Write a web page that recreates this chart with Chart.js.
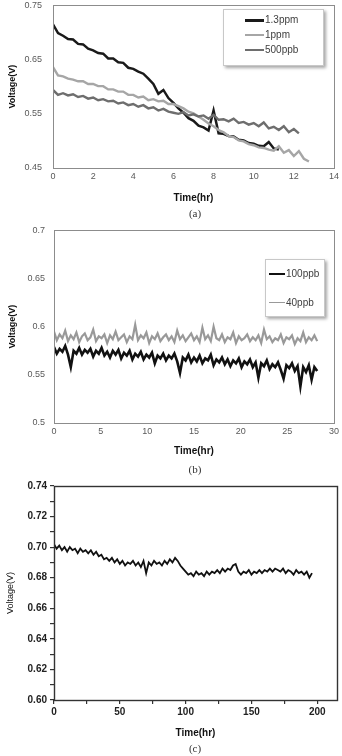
<!DOCTYPE html>
<html>
<head>
<meta charset="utf-8">
<script src="https://cdn.jsdelivr.net/npm/chart.js@4.4.1/dist/chart.umd.min.js"></script>
<style>
  body { margin: 0; width: 342px; height: 756px; background: #fff; position: relative; overflow: hidden; font-family: "Liberation Sans", Arial, sans-serif; }
  canvas { position: absolute; left: 0; }
  .cap { position: absolute; left: 145px; width: 100px; text-align: center; font: 11px/12px "Liberation Serif", serif; color: #333; }
  .legend { position: absolute; background: #fff; border: 1px solid #c8c8c8; box-shadow: 2px 2px 3px rgba(0,0,0,0.35); }
  .legend .ln { position: absolute; height: 2px; }
  .legend .tx { position: absolute; font-size: 10px; line-height: 12px; color: #404040; }
</style>
</head>
<body>
<canvas id="chartA" width="342" height="219" style="top:-11px"></canvas>
<canvas id="chartB" width="342" height="245" style="top:216px"></canvas>
<canvas id="chartC" width="342" height="269" style="top:474px"></canvas>

<div class="cap" style="top:207px">(a)</div>
<div class="cap" style="top:463px">(b)</div>
<div class="cap" style="top:742px">(c)</div>

<div class="legend" style="left:223px;top:9px;width:99px;height:55px">
  <div class="ln" style="left:21px;top:9px;width:19px;height:3px;background:#1a1a1a"></div><div class="tx" style="left:41px;top:4px">1.3ppm</div>
  <div class="ln" style="left:21px;top:24px;width:19px;background:#a6a6a6"></div><div class="tx" style="left:41px;top:19px">1ppm</div>
  <div class="ln" style="left:21px;top:39px;width:19px;background:#6e6e6e"></div><div class="tx" style="left:41px;top:34px">500ppb</div>
</div>
<div class="legend" style="left:265px;top:259px;width:58px;height:56px">
  <div class="ln" style="left:3px;top:13px;width:16px;background:#111"></div><div class="tx" style="left:20px;top:8px">100ppb</div>
  <div class="ln" style="left:3px;top:42px;width:16px;height:1px;background:#999"></div><div class="tx" style="left:20px;top:37px">40ppb</div>
</div>

<script>
// (a) time in hours, sampled every 15 min
const timeA = [0,0.25,0.5,0.75,1,1.25,1.5,1.75,2,2.25,2.5,2.75,3,3.25,3.5,3.75,4,4.25,4.5,4.75,5,5.25,5.5,5.75,6,6.25,6.5,6.75,7,7.25,7.5,7.75,8,8.25,8.5,8.75,9,9.25,9.5,9.75,10,10.25,10.5,10.75,11,11.25,11.5,11.75,12,12.25,12.5,12.75];
const ppm13 = [0.715,0.699,0.694,0.688,0.687,0.679,0.678,0.670,0.667,0.662,0.661,0.652,0.652,0.645,0.644,0.635,0.633,0.628,0.624,0.615,0.605,0.587,0.594,0.579,0.570,0.560,0.552,0.542,0.537,0.528,0.525,0.519,0.556,0.514,0.513,0.509,0.508,0.502,0.501,0.496,0.495,0.491,0.490,0.498,0.486,0.484];
const ppm1 = [0.636,0.621,0.619,0.615,0.613,0.610,0.610,0.605,0.605,0.601,0.601,0.595,0.595,0.591,0.591,0.585,0.585,0.580,0.582,0.575,0.577,0.573,0.574,0.568,0.568,0.564,0.560,0.554,0.551,0.545,0.539,0.532,0.527,0.520,0.516,0.509,0.507,0.501,0.499,0.494,0.492,0.488,0.487,0.484,0.482,0.490,0.478,0.483,0.472,0.481,0.467,0.462];
const ppb500 = [0.594,0.585,0.588,0.584,0.586,0.581,0.583,0.578,0.580,0.575,0.577,0.573,0.574,0.569,0.571,0.566,0.568,0.563,0.566,0.560,0.562,0.556,0.559,0.554,0.552,0.550,0.553,0.547,0.549,0.545,0.547,0.541,0.548,0.539,0.540,0.536,0.541,0.533,0.535,0.530,0.533,0.527,0.534,0.523,0.526,0.520,0.527,0.516,0.522,0.514];

// (b)
const timeB = [0,0.3,0.6,0.9,1.2,1.5,1.8,2.1,2.4,2.7,3,3.3,3.6,3.9,4.2,4.5,4.8,5.1,5.4,5.7,6,6.3,6.6,6.9,7.2,7.5,7.8,8.1,8.4,8.7,9,9.3,9.6,9.9,10.2,10.5,10.8,11.1,11.4,11.7,12,12.3,12.6,12.9,13.2,13.5,13.8,14.1,14.4,14.7,15,15.3,15.6,15.9,16.2,16.5,16.8,17.1,17.4,17.7,18,18.3,18.6,18.9,19.2,19.5,19.8,20.1,20.4,20.7,21,21.3,21.6,21.9,22.2,22.5,22.8,23.1,23.4,23.7,24,24.3,24.6,24.9,25.2,25.5,25.8,26.1,26.4,26.7,27,27.3,27.6,27.9,28.2];
const ppb100 = [0.579,0.572,0.577,0.574,0.580,0.571,0.558,0.575,0.572,0.578,
  0.571,0.576,0.573,0.577,0.569,0.575,0.572,0.578,0.570,0.574,
  0.568,0.575,0.571,0.576,0.567,0.573,0.570,0.575,0.566,0.572,
  0.569,0.574,0.566,0.571,0.568,0.573,0.562,0.570,0.567,0.572,
  0.565,0.570,0.567,0.572,0.564,0.552,0.568,0.565,0.571,0.563,
  0.568,0.564,0.570,0.562,0.567,0.565,0.571,0.560,0.566,0.563,
  0.568,0.561,0.566,0.559,0.565,0.562,0.567,0.558,0.564,0.561,
  0.566,0.558,0.563,0.547,0.562,0.559,0.565,0.556,0.561,0.558,
  0.563,0.555,0.546,0.560,0.557,0.562,0.554,0.559,0.538,0.558,
  0.553,0.560,0.545,0.558,0.554];
const ppb40 = [0.595,0.586,0.592,0.588,0.596,0.585,0.591,0.587,0.594,0.584,
  0.590,0.593,0.586,0.589,0.597,0.585,0.590,0.588,0.592,0.583,
  0.591,0.587,0.595,0.586,0.589,0.592,0.584,0.590,0.587,0.602,
  0.586,0.591,0.588,0.594,0.583,0.590,0.587,0.593,0.585,0.589,
  0.592,0.586,0.590,0.584,0.596,0.587,0.591,0.585,0.589,0.593,
  0.586,0.590,0.584,0.599,0.587,0.591,0.585,0.600,0.588,0.586,
  0.592,0.584,0.589,0.587,0.594,0.583,0.590,0.586,0.588,0.592,
  0.585,0.589,0.586,0.591,0.583,0.597,0.587,0.590,0.584,0.588,
  0.586,0.592,0.583,0.589,0.587,0.591,0.582,0.588,0.585,0.594,
  0.584,0.589,0.586,0.591,0.585];

// (c)
const timeC = [0,2,4,6,8,10,12,14,16,18,20,22,24,26,28,30,32,34,36,38,40,42,44,46,48,50,52,54,56,58,60,62,64,66,68,70,72,74,76,78,80,82,84,86,88,90,92,94,96,98,100,102,104,106,108,110,112,114,116,118,120,122,124,126,128,130,132,134,136,138,140,142,144,146,148,150,152,154,156,158,160,162,164,166,168,170,172,174,176,178,180,182,184,186,188,190,192,194,196];
const voltC = [0.702,0.699,0.701,0.698,0.700,0.697,0.700,0.698,0.699,0.696,
  0.699,0.697,0.698,0.696,0.698,0.695,0.697,0.694,0.695,0.692,
  0.693,0.691,0.693,0.690,0.692,0.689,0.691,0.688,0.690,0.689,
  0.691,0.688,0.690,0.687,0.691,0.683,0.690,0.688,0.691,0.689,
  0.690,0.688,0.691,0.689,0.692,0.690,0.693,0.691,0.688,0.686,
  0.684,0.682,0.683,0.681,0.684,0.682,0.683,0.681,0.684,0.682,
  0.684,0.683,0.685,0.683,0.686,0.684,0.686,0.685,0.688,0.689,
  0.684,0.682,0.684,0.683,0.685,0.682,0.684,0.683,0.685,0.683,
  0.685,0.684,0.686,0.684,0.686,0.685,0.684,0.686,0.683,0.685,
  0.684,0.682,0.685,0.683,0.684,0.682,0.684,0.680,0.683];

const SANS = '"Liberation Sans", Arial, sans-serif';

// box round the plot area
const framePlugin = {
  id: 'frame',
  afterDatasetsDraw(chart, args, opts) {
    const a = chart.chartArea;
    const ctx = chart.ctx;
    ctx.save();
    ctx.strokeStyle = opts.color;
    ctx.lineWidth = opts.width;
    ctx.strokeRect(Math.round(a.left) + 0.5, Math.round(a.top) + 0.5, Math.round(a.right - a.left), Math.round(a.bottom - a.top));
    ctx.restore();
  }
};

function pairs(times, values) {
  return values.map((v, i) => ({ x: times[i], y: v }));
}

function line(label, times, values, color, width) {
  return { label: label, data: pairs(times, values), borderColor: color, borderWidth: width, pointRadius: 0, tension: 0, fill: false };
}

function excelScales(xMax, xStep, yMin, yMax, yStep, yPad, yTitlePad, xHeight) {
  return {
    x: {
      type: 'linear', min: 0, max: xMax,
      ticks: { stepSize: xStep, padding: 3, color: '#595959', font: { family: SANS, size: 9 }, maxRotation: 0 },
      grid: { display: false, drawTicks: false },
      border: { display: false },
      title: { display: true, text: 'Time(hr)', color: '#111', font: { family: SANS, size: 10, weight: 'bold' }, padding: { top: 2, bottom: 4 } },
      afterFit: (s) => { s.height = xHeight; }
    },
    y: {
      min: yMin, max: yMax,
      ticks: { stepSize: yStep, padding: yPad, color: '#595959', font: { family: SANS, size: 9 }, callback: (v) => String(+v.toFixed(2)) },
      grid: { display: false, drawTicks: false },
      border: { display: false },
      title: { display: true, text: 'Voltage(V)', color: '#111', font: { family: SANS, size: 9, weight: 'bold' }, padding: { top: yTitlePad, bottom: 0 } },
      afterFit: (s) => { s.width = 53; }
    }
  };
}

const common = {
  responsive: false,
  animation: false,
  events: [],
  plugins: { legend: { display: false }, tooltip: { enabled: false }, frame: { color: '#8c8c8c', width: 1 } }
};

new Chart(document.getElementById('chartA'), {
  type: 'line',
  data: { datasets: [
    line('500ppb', timeA, ppb500, '#6e6e6e', 2.4),
    line('1ppm', timeA, ppm1, '#a6a6a6', 2.4),
    line('1.3ppm', timeA, ppm13, '#1a1a1a', 2.5)
  ] },
  options: Object.assign({}, common, {
    layout: { padding: { top: 12, right: 7, left: 0, bottom: 0 } },
    scales: excelScales(14, 2, 0.45, 0.75, 0.1, 11, 7, 40)
  }),
  plugins: [framePlugin]
});

const scalesB = excelScales(30, 5, 0.5, 0.7, 0.05, 9, 7, 38);
scalesB.y.afterFit = (s) => { s.width = 54; };
new Chart(document.getElementById('chartB'), {
  type: 'line',
  data: { datasets: [
    line('40ppb', timeB, ppb40, '#999999', 2.2),
    line('100ppb', timeB, ppb100, '#111111', 2.6)
  ] },
  options: Object.assign({}, common, {
    layout: { padding: { top: 12, right: 7, left: 0, bottom: 0 } },
    scales: scalesB
  }),
  plugins: [framePlugin]
});

new Chart(document.getElementById('chartC'), {
  type: 'line',
  data: { datasets: [ line('Voltage', timeC, voltC, '#111111', 1.8) ] },
  options: Object.assign({}, common, {
    layout: { padding: { top: 12, right: 5, left: 0, bottom: 0 } },
    plugins: { legend: { display: false }, tooltip: { enabled: false }, frame: { color: '#333', width: 1.4 } },
    scales: {
      x: {
        type: 'linear', min: 0, max: 215,
        ticks: { stepSize: 25, includeBounds: false, autoSkip: false, padding: 2, maxRotation: 0, color: '#222', font: { family: SANS, size: 10, weight: 'bold' },
          callback: (v) => (v % 50 === 0 ? String(v) : '') },
        grid: { display: true, drawOnChartArea: false, drawTicks: true, tickLength: 4, color: '#333', lineWidth: 1.2 },
        border: { display: false },
        title: { display: true, text: 'Time(hr)', color: '#111', font: { family: SANS, size: 10, weight: 'bold' }, padding: { top: 2, bottom: 4 } },
        afterFit: (s) => { s.height = 43; }
      },
      y: {
        min: 0.6, max: 0.74,
        ticks: { stepSize: 0.01, autoSkip: false, padding: 3, color: '#222', font: { family: SANS, size: 10, weight: 'bold' },
          callback: (v) => (Math.round(v * 100) % 2 === 0 ? v.toFixed(2) : '') },
        grid: { display: true, drawOnChartArea: false, drawTicks: true, tickLength: 4, color: '#333', lineWidth: 1.2 },
        border: { display: false },
        title: { display: true, text: 'Voltage(V)', color: '#111', font: { family: SANS, size: 9 }, padding: { top: 5, bottom: 0 } },
        afterFit: (s) => { s.width = 54; }
      }
    }
  }),
  plugins: [framePlugin]
});
</script>
</body>
</html>
